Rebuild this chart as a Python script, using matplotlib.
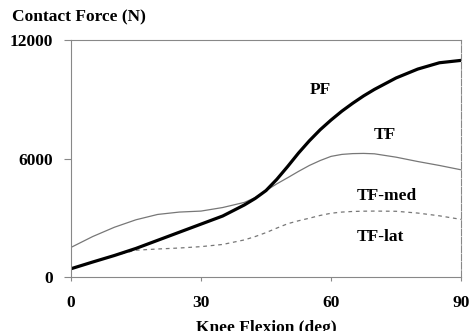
import matplotlib
matplotlib.use('Agg')
import matplotlib.pyplot as plt

# valores (graus de flexao, forca em N)
flexao = [0, 5, 10, 15, 20, 25, 30, 35, 40, 42.5, 45, 47.5, 50, 52.5, 55, 57.5,
          60, 62.5, 65, 67.5, 70, 75, 80, 85, 90]
pf = [420, 760, 1090, 1450, 1860, 2270, 2680, 3090, 3650, 3980, 4380, 4950, 5600,
      6280, 6900, 7460, 7950, 8400, 8800, 9170, 9500, 10080, 10530, 10850, 10970]
tf = [1500, 2050, 2520, 2900, 3170, 3290, 3340, 3520, 3780, 4020, 4380, 4720, 5030,
      5350, 5650, 5900, 6110, 6210, 6250, 6260, 6240, 6070, 5850, 5650, 5430]
tf_med = [420, 760, 1090, 1360, 1420, 1470, 1540, 1650, 1880, 2050, 2250, 2480, 2700,
          2850, 2980, 3120, 3230, 3290, 3320, 3335, 3340, 3330, 3240, 3100, 2920]

rotulos = ['PF', 'TF', 'TF-med', 'TF-lat']
pos_rotulos = [(57.5, 9490), (72.5, 7180), (72.9, 4100), (71.3, 2050)]

plt.rcParams['font.family'] = 'Liberation Serif'
plt.rcParams['font.weight'] = 'bold'

fig = plt.figure(figsize=(4.7, 3.31), dpi=100)
ax = fig.add_axes([0.151, 0.163, 0.830, 0.716])

ax.plot(flexao, tf_med, color='#777777', linewidth=0.9, linestyle=(0, (3, 3)))
ax.plot(flexao, tf, color='#777777', linewidth=0.9)
ax.plot(flexao, pf, color='black', linewidth=2.3)

for r, (x, y) in zip(rotulos, pos_rotulos):
    ax.text(x, y, r, fontsize=12.5, ha='center', va='center')

ax.set_xlim(0, 90)
ax.set_ylim(0, 12000)
ax.set_xticks([0, 30, 60, 90])
ax.set_yticks([0, 6000, 12000])
ax.tick_params(axis='x', length=3, width=0.8, color='#888888', pad=10, labelsize=12.5)
ax.tick_params(axis='y', length=5, width=0.8, color='#888888', pad=8, labelsize=12.5)
for s in ax.spines.values():
    s.set_color('#888888')
    s.set_linewidth(0.8)
ax.spines['right'].set_linestyle((0, (6, 1.5)))

fig.text(12 / 470, 1 - 17 / 331, 'Contact Force (N)', fontsize=12.5, ha='left', va='center')
fig.text(266 / 470, 1 - 320 / 331, 'Knee Flexion (deg)', fontsize=12.5, ha='center', va='top')

fig.savefig('out.png', dpi=100)
